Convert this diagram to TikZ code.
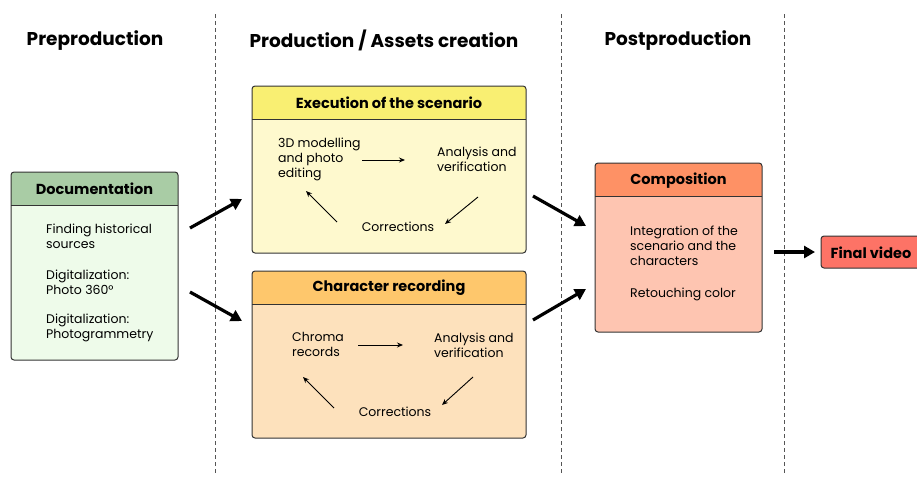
\documentclass[tikz,border=0pt]{standalone}
\usepackage{fontspec}
\setmainfont{Poppins}
\usetikzlibrary{arrows.meta}
\definecolor{edge}{HTML}{333333}
\definecolor{grnH}{HTML}{A9CCA5}
\definecolor{grnB}{HTML}{EEFBEA}
\definecolor{ylwH}{HTML}{F9EF72}
\definecolor{ylwB}{HTML}{FEF9CE}
\definecolor{orgH}{HTML}{FEC76C}
\definecolor{orgB}{HTML}{FDE1BC}
\definecolor{salH}{HTML}{FE9165}
\definecolor{salB}{HTML}{FEC5B1}
\definecolor{redF}{HTML}{FD7366}
\definecolor{dashc}{HTML}{555555}
\begin{document}
\begin{tikzpicture}[x=1pt,y=-1pt,
  stage/.style 2 args={draw=edge, line width=1pt, rounded corners=3pt, fill=#2,
    path picture={\fill[#1,sharp corners] (path picture bounding box.north west) rectangle ([yshift=-33pt]path picture bounding box.north east);
      \draw[edge,line width=1pt,sharp corners] ([yshift=-33pt]path picture bounding box.north west) -- ([yshift=-33pt]path picture bounding box.north east);}},
  heading/.style={font=\fontsize{18.5}{22}\selectfont\bfseries, inner sep=0pt},
  title/.style={font=\fontsize{14.5}{17}\selectfont\bfseries, inner sep=0pt},
  item/.style={font=\fontsize{12.5}{15}\selectfont, align=left, inner sep=0pt, anchor=west},
  sep/.style={dashc, line width=0.8pt, dash pattern=on 4pt off 3pt},
  big/.style={line width=3.2pt, -{Triangle[length=11pt,width=12pt]}},
  small/.style={line width=0.9pt, -{Stealth[length=6pt,width=5pt]}}
]
\useasboundingbox (0,0) rectangle (917,477);

% headings
\node[heading] (hpre) at (95,40.5) {Preproduction};
\node[heading] (hprod) at (384,40.5) {Production / Assets creation};
\node[heading] (hpost) at (678,40.5) {Postproduction};

% separators
\coordinate (s1t) at (215,14); \coordinate (s1b) at (215,475);
\coordinate (s2t) at (561,14); \coordinate (s2b) at (561,475);
\coordinate (s3t) at (784,14); \coordinate (s3b) at (784,475);
\draw[sep] (s1t) -- (s1b);
\draw[sep] (s2t) -- (s2b);
\draw[sep] (s3t) -- (s3b);

% Documentation
\node[stage={grnH}{grnB}, minimum width=167pt, minimum height=188pt] (doc) at (94.5,266) {};
\node[title] (doct) at (94.5,189) {Documentation};
\node[item] (d1) at (46,236) {Finding historical\\sources};
\node[item] (d2) at (46,282) {Digitalization:\\Photo 360°};
\node[item] (d3) at (46,328) {Digitalization:\\Photogrammetry};

% Execution of the scenario
\node[stage={ylwH}{ylwB}, minimum width=274pt, minimum height=167pt] (exe) at (389,169.5) {};
\node[title] (exet) at (389,103) {Execution of the scenario};
\node[item] (e1) at (278,159.5) {3D modelling\\and photo\\editing};
\node[item] (e2) at (437,159.5) {Analysis and\\verification};
\node[item,anchor=center] (e3) at (398,226.5) {Corrections};
\coordinate (ea1) at (362,160); \coordinate (ea2) at (405,160);
\coordinate (eb1) at (478,197); \coordinate (eb2) at (445,224);
\coordinate (ec1) at (337,222); \coordinate (ec2) at (306,191);
\draw[small] (ea1) -- (ea2);
\draw[small] (eb1) -- (eb2);
\draw[small] (ec1) -- (ec2);

% Character recording
\node[stage={orgH}{orgB}, minimum width=274pt, minimum height=167pt] (chr) at (389,354.5) {};
\node[title] (chrt) at (389,288) {Character recording};
\node[item] (c1) at (292,344) {Chroma\\records};
\node[item] (c2) at (434,345) {Analysis and\\verification};
\node[item,anchor=center] (c3) at (395,411.5) {Corrections};
\coordinate (ca1) at (358,345); \coordinate (ca2) at (403,345);
\coordinate (cb1) at (473,377); \coordinate (cb2) at (442,405);
\coordinate (cc1) at (334,408); \coordinate (cc2) at (303,377);
\draw[small] (ca1) -- (ca2);
\draw[small] (cb1) -- (cb2);
\draw[small] (cc1) -- (cc2);

% Composition
\node[stage={salH}{salB}, minimum width=167pt, minimum height=169pt] (cmp) at (678.5,247.5) {};
\node[title] (cmpt) at (678.5,180.5) {Composition};
\node[item] (p1) at (630,245.5) {Integration of the\\scenario and the\\characters};
\node[item] (p2) at (630,294.5) {Retouching color};

% Final video
\node[draw=edge, line width=1pt, rounded corners=3pt, fill=redF, minimum width=100pt, minimum height=32pt] (fin) at (871,252) {};
\node[title] (fint) at (871,253) {Final video};

% big arrows
\coordinate (a1s) at (190,228); \coordinate (a1e) at (242,199);
\coordinate (a2s) at (190,292); \coordinate (a2e) at (242,321);
\coordinate (a3s) at (533,196); \coordinate (a3e) at (586,226);
\coordinate (a4s) at (533,320); \coordinate (a4e) at (586,289);
\coordinate (a5s) at (774,252); \coordinate (a5e) at (815,252);
\draw[big] (a1s) -- (a1e);
\draw[big] (a2s) -- (a2e);
\draw[big] (a3s) -- (a3e);
\draw[big] (a4s) -- (a4e);
\draw[big] (a5s) -- (a5e);
\end{tikzpicture}
\end{document}
